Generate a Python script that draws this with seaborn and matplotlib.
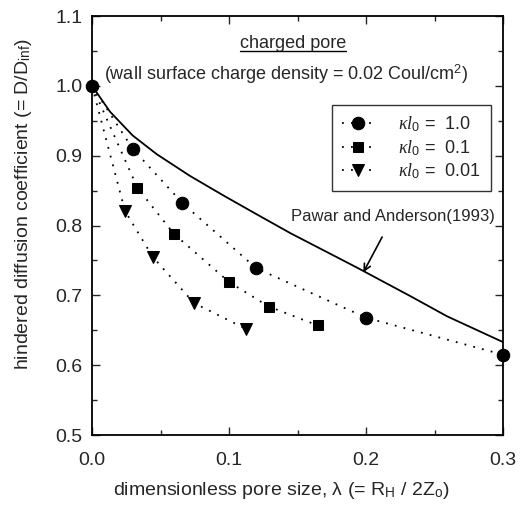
import numpy as np
import pandas as pd
import matplotlib
matplotlib.use('Agg')
import matplotlib.pyplot as plt
from matplotlib.ticker import MultipleLocator
from matplotlib.lines import Line2D
import seaborn as sns

# kl0 = 1.0 (circles)
lam_k1 = [0.0, 0.0296, 0.066, 0.1197, 0.200, 0.300]
d_k1 = [1.000, 0.910, 0.832, 0.739, 0.668, 0.615]
# kl0 = 0.1 (squares)
lam_k01 = [0.0, 0.0331, 0.0598, 0.100, 0.129, 0.1646]
d_k01 = [1.000, 0.854, 0.788, 0.719, 0.684, 0.657]
# kl0 = 0.01 (triangles)
lam_k001 = [0.0, 0.024, 0.0443, 0.0744, 0.1123]
d_k001 = [1.000, 0.821, 0.755, 0.689, 0.652]
# Pawar and Anderson (1993)
lam_pa = [0.0, 0.0131, 0.0296, 0.0473, 0.0715, 0.0959, 0.1202, 0.1448, 0.1931, 0.2322, 0.2591, 0.300]
d_pa = [1.000, 0.963, 0.929, 0.902, 0.871, 0.843, 0.816, 0.789, 0.740, 0.699, 0.670, 0.633]

series_labels = [r'$\kappa l_0$ =  1.0', r'$\kappa l_0$ =  0.1', r'$\kappa l_0$ =  0.01']

sns.set_style('ticks')
plt.rcParams['font.family'] = ['Liberation Sans', 'DejaVu Sans']
plt.rcParams['mathtext.fontset'] = 'custom'
plt.rcParams['mathtext.rm'] = 'Liberation Sans'
plt.rcParams['mathtext.it'] = 'Liberation Serif:italic'

fig = plt.figure(figsize=(5.23, 5.15), dpi=100)
ax = fig.add_axes([0.176, 0.1553, 0.786, 0.8136])

dot = (0, (1, 4))
sns.lineplot(x=lam_pa, y=d_pa, color='black', linewidth=1.3, ax=ax)
sns.lineplot(x=lam_k001, y=d_k001, color='black', linestyle=dot, linewidth=1.3,
             marker='v', markersize=9, markeredgecolor='black', markevery=slice(1, None),
             label=series_labels[2], ax=ax)
sns.lineplot(x=lam_k01, y=d_k01, color='black', linestyle=dot, linewidth=1.3,
             marker='s', markersize=7.5, markeredgecolor='black', markevery=slice(1, None),
             label=series_labels[1], ax=ax)
sns.lineplot(x=lam_k1, y=d_k1, color='black', linestyle=dot, linewidth=1.3,
             marker='o', markersize=9, markeredgecolor='black',
             label=series_labels[0], ax=ax, clip_on=False)

ax.set_xlim(0, 0.3)
ax.set_ylim(0.5, 1.1)
ax.xaxis.set_major_locator(MultipleLocator(0.1))
ax.xaxis.set_minor_locator(MultipleLocator(0.05))
ax.yaxis.set_major_locator(MultipleLocator(0.1))
ax.yaxis.set_minor_locator(MultipleLocator(0.05))
ax.tick_params(which='both', direction='in', top=True, right=True, width=1, labelsize=14)
ax.tick_params(axis='x', which='both', pad=12)
ax.tick_params(axis='y', which='both', pad=7)
ax.tick_params(which='major', length=6)
ax.tick_params(which='minor', length=3.5)
for s in ax.spines.values():
    s.set_linewidth(1.3)
    s.set_color('black')

ax.set_xlabel(r'dimensionless pore size, λ (= R$_{\rm H}$ / 2Z$_{\rm o}$)', fontsize=14)
ax.set_ylabel(r'hindered diffusion coefficient (= D/D$_{\rm inf}$)', fontsize=14)
ax.xaxis.set_label_coords(0.461, -0.108)
ax.yaxis.set_label_coords(-0.14, 0.55)

handles, labels = ax.get_legend_handles_labels()
order = [labels.index(l) for l in series_labels]
leg = ax.legend([handles[i] for i in order], [labels[i] for i in order],
                loc='upper left', bbox_to_anchor=(0.584, 0.788), borderaxespad=0,
                frameon=True, fancybox=False, edgecolor='black', fontsize=13,
                handlelength=1.8, handletextpad=1.3, labelspacing=0.2, borderpad=0.55)
leg.get_frame().set_linewidth(1.0)

title = ax.text(0.1467, 1.060, 'charged pore', ha='center', va='center', fontsize=13)
ax.text(0.1416, 1.017, r'(wall surface charge density = 0.02 Coul/cm$^2$)', ha='center', va='center', fontsize=13)
ax.annotate('Pawar and Anderson(1993)', xy=(0.198, 0.733), xytext=(0.2197, 0.813),
            ha='center', va='center', fontsize=12,
            arrowprops=dict(arrowstyle='->', color='black', lw=1.2, shrinkA=8, shrinkB=0))

# underline for "charged pore"
fig.canvas.draw()
bb = title.get_window_extent().transformed(fig.transFigure.inverted())
fig.add_artist(Line2D([bb.x0, bb.x1], [bb.y0 + 0.002, bb.y0 + 0.002], color='black', lw=1.0,
                      transform=fig.transFigure))

fig.savefig('out.png', dpi=100)
